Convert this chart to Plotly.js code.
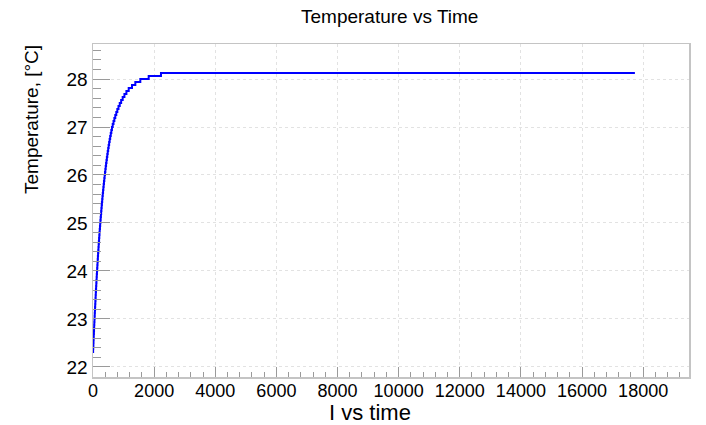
<!DOCTYPE html>
<html>
<head>
<meta charset="utf-8">
<script src="https://cdn.plot.ly/plotly-3.0.1.min.js"></script>
<style>html,body{margin:0;padding:0;background:#fff;}#chart{width:706px;height:425px;}</style>
</head>
<body>
<div id="chart"></div>
<script>
// Time [s] at which each temperature reading starts
const timeValues = [0,4,8,13,17,21,25,30,34,39,43,48,53,57,62,67,72,77,82,87,
  92,97,102,108,113,119,124,130,136,142,148,154,160,166,173,179,186,192,199,206,
  213,220,228,235,243,251,259,267,275,284,292,301,310,320,329,339,349,359,370,381,
  392,404,416,428,441,454,468,482,497,512,528,545,562,581,600,620,
  645,671,699,729,762,796,834,875,921,971,1028,1093,1168,1276,1385,1548,1822,2224,17730];
// Temperature readings [°C]
const tempValues = [22.3125,22.375,22.4375,22.5,22.5625,22.625,22.6875,22.75,22.8125,22.875,
  22.9375,23.0,23.0625,23.125,23.1875,23.25,23.3125,23.375,23.4375,23.5,
  23.5625,23.625,23.6875,23.75,23.8125,23.875,23.9375,24.0,24.0625,24.125,
  24.1875,24.25,24.3125,24.375,24.4375,24.5,24.5625,24.625,24.6875,24.75,
  24.8125,24.875,24.9375,25.0,25.0625,25.125,25.1875,25.25,25.3125,25.375,
  25.4375,25.5,25.5625,25.625,25.6875,25.75,25.8125,25.875,25.9375,26.0,
  26.0625,26.125,26.1875,26.25,26.3125,26.375,26.4375,26.5,26.5625,26.625,
  26.6875,26.75,26.8125,26.875,26.9375,27.0,
  27.0625,27.125,27.1875,27.25,27.3125,27.375,27.4375,27.5,27.5625,27.625,
  27.6875,27.75,27.8125,27.875,27.9375,28.0,28.0625,28.125,28.125];

const xTickVals = [0,2000,4000,6000,8000,10000,12000,14000,16000,18000];
const yTickVals = [22,23,24,25,26,27,28];

const chartTitle = "Temperature vs Time";
const xTitle = "I vs time";
const yTitle = "Temperature, [°C]";

const FONT = "Liberation Sans, Arial, Helvetica, sans-serif";
const frameColor = "#c4c4c4";
const tickColor = "#9a9a9a";

const trace = {
  x: timeValues,
  y: tempValues,
  type: "scatter",
  mode: "lines",
  line: {color: "#0000ff", width: 2, shape: "hv"},
  hoverinfo: "x+y"
};

const layout = {
  width: 706,
  height: 425,
  margin: {l: 93, r: 17, t: 44, b: 48},
  paper_bgcolor: "#ffffff",
  plot_bgcolor: "#ffffff",
  showlegend: false,
  font: {family: FONT, size: 18, color: "#000"},
  xaxis: {
    range: [0, 19500],
    tickvals: xTickVals,
    ticktext: xTickVals.map(String),
    ticks: "inside",
    ticklen: 10,
    tickwidth: 1,
    tickcolor: tickColor,
    ticklabelstandoff: -3,
    showline: true,
    linecolor: frameColor,
    linewidth: 1.5,
    mirror: true,
    showgrid: true,
    gridcolor: "#e2e2e2",
    griddash: "dot",
    gridwidth: 1,
    zeroline: false,
    tickfont: {family: FONT, size: 18, color: "#000"},
    minor: {ticks: "inside", ticklen: 5, dtick: 400, tick0: 0, tickcolor: tickColor, showgrid: false}
  },
  yaxis: {
    range: [21.79, 28.73],
    tickvals: yTickVals,
    ticktext: yTickVals.map(String),
    ticks: "inside",
    ticklen: 17,
    tickwidth: 1,
    tickcolor: tickColor,
    showline: true,
    linecolor: frameColor,
    linewidth: 1.5,
    mirror: true,
    showgrid: true,
    gridcolor: "#e2e2e2",
    griddash: "dot",
    gridwidth: 1,
    zeroline: false,
    tickfont: {family: FONT, size: 19, color: "#000"},
    minor: {ticks: "inside", ticklen: 8, dtick: 0.2, tick0: 22, tickcolor: tickColor, showgrid: false}
  },
  annotations: [
    {text: chartTitle, xref: "paper", yref: "paper", x: 0.498, y: 1, yshift: 28,
     xanchor: "center", yanchor: "middle", showarrow: false,
     font: {family: FONT, size: 19, color: "#000"}},
    {text: xTitle, xref: "paper", yref: "paper", x: (370 - 93) / (706 - 93 - 17), y: 0, yshift: -35,
     xanchor: "center", yanchor: "middle", showarrow: false,
     font: {family: FONT, size: 22, color: "#000"}},
    {text: yTitle, xref: "paper", yref: "paper", x: 0, xshift: -62, y: 1, yshift: -76,
     textangle: -90, xanchor: "center", yanchor: "middle", showarrow: false,
     font: {family: FONT, size: 19, color: "#000"}}
  ]
};

Plotly.newPlot("chart", [trace], layout, {displayModeBar: false, staticPlot: true});
</script>
</body>
</html>
